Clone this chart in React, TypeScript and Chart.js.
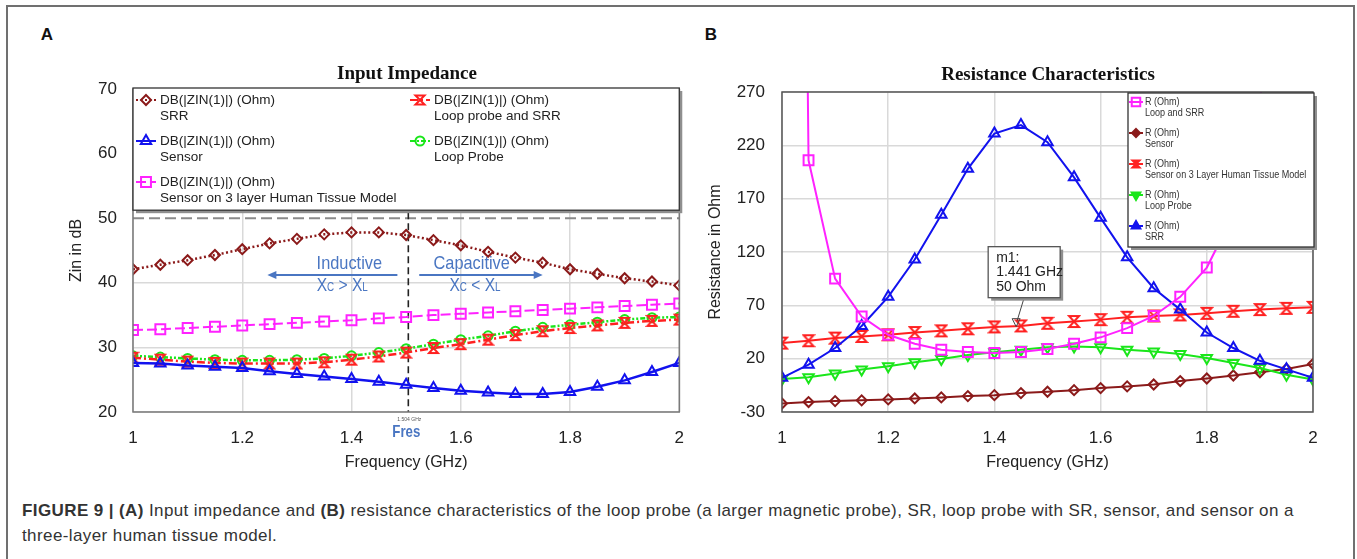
import React, { useEffect, useRef } from 'react';
import { Chart, registerables } from 'chart.js';

Chart.register(...registerables);

// ---------------- data ----------------
const freq = [1, 1.05, 1.1, 1.15, 1.2, 1.25, 1.3, 1.35, 1.4, 1.45, 1.5, 1.55, 1.6, 1.65, 1.7, 1.75, 1.8, 1.85, 1.9, 1.95, 2];

// Panel A: Input impedance (dB)
const zinSRR = [42.1, 42.8, 43.5, 44.3, 45.2, 46.1, 46.8, 47.5, 47.8, 47.8, 47.4, 46.6, 45.8, 44.8, 43.9, 43.1, 42.1, 41.4, 40.7, 40.2, 39.6];
const zinLoopSRR = [28.4, 28.1, 27.8, 27.6, 27.5, 27.5, 27.5, 27.7, 28.1, 28.6, 29.2, 29.9, 30.5, 31.2, 31.9, 32.5, 33.0, 33.4, 33.8, 34.1, 34.3];
const zinSensor = [27.6, 27.5, 27.2, 27.0, 26.8, 26.3, 25.9, 25.5, 25.1, 24.7, 24.2, 23.7, 23.3, 23.0, 22.8, 22.8, 23.1, 23.9, 24.9, 26.2, 27.6];
const zinLoopProbe = [28.7, 28.5, 28.3, 28.1, 28.0, 28.0, 28.1, 28.3, 28.7, 29.2, 29.8, 30.5, 31.2, 31.8, 32.5, 33.1, 33.5, 33.9, 34.3, 34.6, 34.7];
const zinTissue = [32.7, 32.8, 33.0, 33.2, 33.4, 33.6, 33.8, 34.0, 34.2, 34.5, 34.7, 35.0, 35.2, 35.4, 35.6, 35.8, 36.0, 36.2, 36.4, 36.6, 36.8];

// Panel B: Resistance (Ohm)
const rLoopSRR = [2500, 206, 95, 59.5, 42.4, 34, 28.4, 26.2, 25.3, 26.2, 29, 34, 40, 48.6, 60, 78, 105.4, 155, 262, 450, 800];
const rSensor = [-22, -20.7, -19.8, -19.1, -18.2, -17.3, -16.3, -15.1, -14.2, -12.3, -11, -9.5, -7.6, -6, -4.2, -1, 1.4, 4.2, 7.3, 10.4, 15];
const rTissue = [34.6, 36.8, 39.3, 40.8, 42.4, 44.5, 46.1, 48, 49.8, 50.7, 53.2, 54.8, 56.6, 58.8, 60, 61, 62.5, 64.4, 66, 67.2, 68.1];
const rLoopProbe = [1, 2.6, 6, 9.8, 13, 16.6, 19.7, 23.4, 26, 28.4, 30.6, 31.5, 30.6, 28.4, 26.8, 24.3, 20.6, 16, 11.3, 5, 0.4];
const rSRR = [2, 14.4, 30, 50.7, 78, 113, 155, 198, 231, 239, 223, 190, 152, 115, 86, 66, 44.5, 30, 18, 10, 2];

// axes
const xMin = 1, xMax = 2, xStep = 0.2;
const yMinA = 20, yMaxA = 70, yStepA = 10;
const yMinB = -30, yMaxB = 270, yStepB = 50;

// annotations
const fresGHz = 1.504;
const legendFloorA = 50;
const arrowLevel = 41.2;
const inductiveArrow = [1.484, 1.246];
const capacitiveArrow = [1.524, 1.75];
const m1Freq = 1.441;
const m1Ohm = 50;

// texts
const titleA = 'Input Impedance';
const titleB = 'Resistance Characteristics';
const xTitle = 'Frequency (GHz)';
const yTitleA = 'Zin in dB';
const yTitleB = 'Resistance in Ohm';
const traceA = 'DB(|ZIN(1)|) (Ohm)';
const namesA = ['SRR', 'Loop probe and SRR', 'Sensor', 'Loop Probe', 'Sensor on 3 layer Human Tissue Model'];
const traceB = 'R (Ohm)';
const namesB = ['Loop and SRR', 'Sensor', 'Sensor on 3 Layer Human Tissue Model', 'Loop Probe', 'SRR'];

// ---------------- styles ----------------
const FONT = '"Liberation Sans", Arial, Helvetica, sans-serif';
const SERIF = '"Liberation Serif", "Times New Roman", serif';
const C_DARKRED = '#8b1a1a';
const C_BLUE = '#1212ee';
const C_GREEN = '#1ae61a';
const C_RED = '#ff2020';
const C_PINK = '#ff22ff';
const C_NOTE = '#4a76c2';
const NONE = 'rgba(0,0,0,0)';

const pts = (arr: number[]) => freq.map((x, i) => ({ x, y: arr[i] }));
const fmt = (v: any) => String(Number(Number(v).toFixed(3)));

function hourglassCanvas(color: string, w: number, h: number, lw: number) {
  const c = document.createElement('canvas');
  c.width = w + 4;
  c.height = h + 4;
  const g = c.getContext('2d')!;
  g.strokeStyle = color;
  g.lineWidth = lw;
  g.lineJoin = 'miter';
  g.beginPath();
  g.moveTo(2, 2);
  g.lineTo(2 + w, 2);
  g.lineTo(2, 2 + h);
  g.lineTo(2 + w, 2 + h);
  g.closePath();
  g.stroke();
  return c;
}

function drawMarker(ctx: CanvasRenderingContext2D, kind: string, x: number, y: number, r: number, color: string, fill: boolean, lw = 2) {
  ctx.save();
  ctx.setLineDash([]);
  ctx.strokeStyle = color;
  ctx.fillStyle = color;
  ctx.lineWidth = lw;
  ctx.beginPath();
  if (kind === 'rect') {
    const s = r * Math.SQRT1_2;
    ctx.rect(x - s, y - s, 2 * s, 2 * s);
  } else if (kind === 'rectRot') {
    ctx.moveTo(x, y - r); ctx.lineTo(x + r, y); ctx.lineTo(x, y + r); ctx.lineTo(x - r, y); ctx.closePath();
  } else if (kind === 'triangle') {
    ctx.moveTo(x, y - r); ctx.lineTo(x + r * 0.866, y + r / 2); ctx.lineTo(x - r * 0.866, y + r / 2); ctx.closePath();
  } else if (kind === 'triangleDown') {
    ctx.moveTo(x, y + r); ctx.lineTo(x + r * 0.866, y - r / 2); ctx.lineTo(x - r * 0.866, y - r / 2); ctx.closePath();
  } else if (kind === 'circle') {
    ctx.arc(x, y, r, 0, Math.PI * 2);
  } else if (kind === 'hourglass') {
    ctx.moveTo(x - r, y - r); ctx.lineTo(x + r, y - r); ctx.lineTo(x - r, y + r); ctx.lineTo(x + r, y + r); ctx.closePath();
  }
  if (fill) ctx.fill();
  ctx.stroke();
  ctx.restore();
}

function arrow(ctx: CanvasRenderingContext2D, x1: number, x2: number, y: number, color: string) {
  const dir = Math.sign(x2 - x1);
  ctx.save();
  ctx.strokeStyle = color; ctx.fillStyle = color; ctx.lineWidth = 2; ctx.setLineDash([]);
  ctx.beginPath(); ctx.moveTo(x1, y); ctx.lineTo(x2 - dir * 6, y); ctx.stroke();
  ctx.beginPath(); ctx.moveTo(x2, y); ctx.lineTo(x2 - dir * 9, y - 4); ctx.lineTo(x2 - dir * 9, y + 4); ctx.closePath(); ctx.fill();
  ctx.restore();
}

function narrowText(ctx: CanvasRenderingContext2D, text: string, x: number, y: number, sx: number, align: CanvasTextAlign) {
  ctx.save();
  ctx.translate(x, y);
  ctx.scale(sx, 1);
  ctx.textAlign = align;
  ctx.fillText(text, 0, 0);
  ctx.restore();
}

function richText(ctx: CanvasRenderingContext2D, cx: number, cy: number, parts: [string, number][], color: string, sx: number) {
  ctx.save();
  ctx.fillStyle = color;
  ctx.textBaseline = 'alphabetic';
  ctx.textAlign = 'left';
  let total = 0;
  const widths = parts.map(([t, s]) => { ctx.font = `${s}px ${FONT}`; const w = ctx.measureText(t).width; total += w; return w; });
  ctx.translate(cx, cy + 6);
  ctx.scale(sx, 1);
  let x = -total / 2;
  parts.forEach(([t, s], i) => { ctx.font = `${s}px ${FONT}`; ctx.fillText(t, x, 0); x += widths[i]; });
  ctx.restore();
}

function boxWithShadow(ctx: CanvasRenderingContext2D, l: number, t: number, w: number, h: number, border: string) {
  ctx.save();
  ctx.setLineDash([]);
  ctx.fillStyle = '#8f8f8f';
  ctx.fillRect(l + 3, t + 3, w, h);
  ctx.fillStyle = '#ffffff';
  ctx.fillRect(l, t, w, h);
  ctx.strokeStyle = border;
  ctx.lineWidth = 1.3;
  ctx.strokeRect(l, t, w, h);
  ctx.restore();
}

const seriesStyleA = [
  { color: C_DARKRED, dash: [2, 2.5], marker: 'rectRot', r: 5 },
  { color: C_RED, dash: [8, 3, 2, 3], marker: 'hourglass', r: 4.5 },
  { color: C_BLUE, dash: [], marker: 'triangle', r: 6 },
  { color: C_GREEN, dash: [5, 2, 2, 2], marker: 'circle', r: 4.5 },
  { color: C_PINK, dash: [10, 4], marker: 'rect', r: 7 },
];
const legendSlotA = [[0, 0], [1, 0], [0, 1], [1, 1], [0, 2]];

const seriesStyleB = [
  { color: C_PINK, marker: 'rect', r: 7, fill: false },
  { color: C_DARKRED, marker: 'rectRot', r: 5, fill: true },
  { color: C_RED, marker: 'hourglass', r: 4.5, fill: true },
  { color: C_GREEN, marker: 'triangleDown', r: 6, fill: true },
  { color: C_BLUE, marker: 'triangle', r: 6, fill: true },
];

const overlayA = {
  id: 'overlayA',
  beforeDatasetsDraw(chart: any) {
    const { ctx, chartArea: ca, scales: { x, y } } = chart;
    const y50 = y.getPixelForValue(legendFloorA);
    ctx.save();
    ctx.strokeStyle = '#8a8a8a'; ctx.lineWidth = 2; ctx.setLineDash([11, 5]);
    ctx.beginPath(); ctx.moveTo(ca.left, y50); ctx.lineTo(ca.right, y50); ctx.stroke();
    const xf = x.getPixelForValue(fresGHz);
    ctx.strokeStyle = '#222'; ctx.lineWidth = 1.6; ctx.setLineDash([7, 4]);
    ctx.beginPath(); ctx.moveTo(xf, y50 - 6); ctx.lineTo(xf, ca.bottom); ctx.stroke();
    ctx.restore();
  },
  afterDatasetsDraw(chart: any) {
    const { ctx, chartArea: ca, scales: { x, y } } = chart;
    ctx.save();
    // frame
    ctx.strokeStyle = '#7a7a7a'; ctx.lineWidth = 1.5; ctx.setLineDash([]);
    ctx.strokeRect(ca.left, ca.top, ca.right - ca.left, ca.bottom - ca.top);
    // legend box
    const top = ca.top - 1;
    const bottom = y.getPixelForValue(legendFloorA) - 8;
    boxWithShadow(ctx, ca.left, top, ca.right - ca.left, bottom - top, '#333');
    ctx.font = `13.5px ${FONT}`;
    ctx.textBaseline = 'middle';
    ctx.textAlign = 'left';
    namesA.forEach((name, i) => {
      const st = seriesStyleA[i];
      const [col, row] = legendSlotA[i];
      const sx = ca.left + (col === 0 ? 3 : 277);
      const ly = ca.top + 11 + row * 41;
      ctx.save();
      ctx.strokeStyle = st.color; ctx.lineWidth = 2; ctx.setLineDash(st.dash);
      ctx.beginPath(); ctx.moveTo(sx, ly); ctx.lineTo(sx + 20, ly); ctx.stroke();
      ctx.restore();
      drawMarker(ctx, st.marker, sx + 10, ly, st.r, st.color, false);
      ctx.fillStyle = '#222';
      ctx.fillText(traceA, sx + 24, ly);
      ctx.fillText(name, sx + 24, ly + 16);
    });
    // annotations
    const ay = y.getPixelForValue(arrowLevel);
    arrow(ctx, x.getPixelForValue(inductiveArrow[0]), x.getPixelForValue(inductiveArrow[1]), ay, C_NOTE);
    arrow(ctx, x.getPixelForValue(capacitiveArrow[0]), x.getPixelForValue(capacitiveArrow[1]), ay, C_NOTE);
    ctx.fillStyle = C_NOTE;
    ctx.font = `19px ${FONT}`;
    ctx.textBaseline = 'middle';
    narrowText(ctx, 'Inductive', x.getPixelForValue(1.396), y.getPixelForValue(42.9), 0.86, 'center');
    narrowText(ctx, 'Capacitive', x.getPixelForValue(1.62), y.getPixelForValue(42.9), 0.86, 'center');
    richText(ctx, x.getPixelForValue(1.383), y.getPixelForValue(39.6), [['X', 19], ['C', 12], [' > X', 19], ['L', 12]], C_NOTE, 0.82);
    richText(ctx, x.getPixelForValue(1.626), y.getPixelForValue(39.6), [['X', 19], ['C', 12], [' < X', 19], ['L', 12]], C_NOTE, 0.82);
    ctx.restore();
  },
  afterDraw(chart: any) {
    const { ctx, chartArea: ca, scales: { x } } = chart;
    const xf = x.getPixelForValue(fresGHz);
    ctx.save();
    ctx.textAlign = 'center';
    ctx.textBaseline = 'middle';
    ctx.fillStyle = '#555';
    ctx.font = `5px ${FONT}`;
    ctx.fillText(`${fresGHz} GHz`, xf + 1, ca.bottom + 8);
    ctx.fillStyle = C_NOTE;
    ctx.font = `bold 17px ${FONT}`;
    narrowText(ctx, 'Fres', xf - 2, ca.bottom + 20, 0.78, 'center');
    ctx.restore();
  },
};

const overlayB = {
  id: 'overlayB',
  afterDatasetsDraw(chart: any) {
    const { ctx, chartArea: ca, scales: { x, y } } = chart;
    ctx.save();
    ctx.strokeStyle = '#555'; ctx.lineWidth = 1.5; ctx.setLineDash([]);
    ctx.strokeRect(ca.left, ca.top, ca.right - ca.left, ca.bottom - ca.top);
    // legend
    const l = ca.right - 185, t = ca.top + 1, w = 186, h = 154;
    boxWithShadow(ctx, l, t, w, h, '#333');
    ctx.font = `10.5px ${FONT}`;
    ctx.textBaseline = 'middle';
    namesB.forEach((name, i) => {
      const st = seriesStyleB[i];
      const ly = t + 9 + i * 31;
      ctx.save();
      ctx.strokeStyle = st.color; ctx.lineWidth = 2;
      ctx.beginPath(); ctx.moveTo(l + 1, ly); ctx.lineTo(l + 15, ly); ctx.stroke();
      ctx.restore();
      drawMarker(ctx, st.marker, l + 8, ly, st.r - 1, st.color, st.fill);
      ctx.fillStyle = '#333';
      narrowText(ctx, traceB, l + 17, ly, 0.86, 'left');
      narrowText(ctx, name, l + 17, ly + 11.5, 0.86, 'left');
    });
    // m1 marker
    const px = x.getPixelForValue(m1Freq), py = y.getPixelForValue(m1Ohm);
    const bx = px - 28, by = py - 80, bw = 72, bh = 51;
    ctx.strokeStyle = '#444'; ctx.lineWidth = 1;
    ctx.beginPath(); ctx.moveTo(px + 8, by + bh); ctx.lineTo(px + 1, py - 6); ctx.stroke();
    ctx.beginPath(); ctx.moveTo(px - 4, py - 8); ctx.lineTo(px + 4, py - 8); ctx.lineTo(px, py); ctx.closePath(); ctx.stroke();
    boxWithShadow(ctx, bx, by, bw, bh, '#555');
    ctx.fillStyle = '#222';
    ctx.font = `14px ${FONT}`;
    ctx.textAlign = 'left';
    ctx.fillText('m1:', bx + 8, by + 11);
    ctx.fillText(`${m1Freq} GHz`, bx + 8, by + 25);
    ctx.fillText(`${m1Ohm} Ohm`, bx + 8, by + 40);
    ctx.restore();
  },
};

function xScale(titleText: string) {
  return {
    type: 'linear',
    min: xMin,
    max: xMax,
    ticks: { stepSize: xStep, color: '#222', font: { family: FONT, size: 17 }, padding: 16, maxRotation: 0, autoSkip: false, callback: (v: any) => fmt(v) },
    grid: { color: '#d9d9d9', lineWidth: 1.5, drawTicks: false },
    border: { display: false },
    title: { display: true, text: titleText, color: '#222', font: { family: FONT, size: 16 }, padding: 0 },
    afterFit: (s: any) => { s.height = 60; },
  };
}

function yScale(min: number, max: number, step: number, titleText: string, width: number, pad: number, hideVal?: number) {
  return {
    type: 'linear',
    min, max,
    ticks: { stepSize: step, color: '#222', font: { family: FONT, size: 17 }, padding: pad, callback: (v: any) => fmt(v) },
    grid: { color: (c: any) => (c.tick && c.tick.value === hideVal ? NONE : '#d9d9d9'), lineWidth: 1.5, drawTicks: false },
    border: { display: false },
    title: { display: true, text: titleText, color: '#222', font: { family: FONT, size: 16 }, padding: 0 },
    afterFit: (s: any) => { s.width = width; },
  };
}

export default function App() {
  const refA = useRef<HTMLCanvasElement>(null);
  const refB = useRef<HTMLCanvasElement>(null);

  useEffect(() => {
    const hgA = hourglassCanvas(C_RED, 9, 10, 2);
    const hgB = hourglassCanvas(C_RED, 10, 11, 2);
    const base = (color: string) => ({ borderColor: color, pointBorderColor: color, pointBackgroundColor: NONE, pointBorderWidth: 2, tension: 0, fill: false });

    const chartA = new Chart(refA.current!, {
      type: 'line',
      data: {
        datasets: [
          { ...base(C_BLUE), label: namesA[2], data: pts(zinSensor), borderWidth: 2.5, pointStyle: 'triangle', pointRadius: 6 },
          { ...base(C_RED), label: namesA[1], data: pts(zinLoopSRR), borderWidth: 2.5, borderDash: [8, 3, 2, 3], pointStyle: hgA as any, pointRadius: 5 },
          { ...base(C_GREEN), label: namesA[3], data: pts(zinLoopProbe), borderWidth: 2.5, borderDash: [5, 2, 2, 2, 2, 2], pointStyle: 'circle', pointRadius: 4.5 },
          { ...base(C_DARKRED), label: namesA[0], data: pts(zinSRR), borderWidth: 2.5, borderDash: [2, 2.5], pointStyle: 'rectRot', pointRadius: 5 },
          { ...base(C_PINK), label: namesA[4], data: pts(zinTissue), borderWidth: 2, borderDash: [10, 4], pointStyle: 'rect', pointRadius: 7 },
        ] as any,
      },
      options: {
        responsive: false,
        animation: false,
        events: [],
        layout: { padding: { left: 67, top: 89, right: 19, bottom: 8 } },
        plugins: { legend: { display: false }, tooltip: { enabled: false }, title: { display: false } },
        scales: {
          x: xScale(xTitle) as any,
          y: yScale(yMinA, yMaxA, yStepA, yTitleA, 66, 16, legendFloorA) as any,
        },
      },
      plugins: [overlayA],
    });

    const chartB = new Chart(refB.current!, {
      type: 'line',
      data: {
        datasets: [
          { ...base(C_PINK), label: namesB[0], data: pts(rLoopSRR), borderWidth: 2, pointStyle: 'rect', pointRadius: 7 },
          { ...base(C_BLUE), label: namesB[4], data: pts(rSRR), borderWidth: 2, pointStyle: 'triangle', pointRadius: 6 },
          { ...base(C_RED), label: namesB[2], data: pts(rTissue), borderWidth: 2, pointStyle: hgB as any, pointRadius: 5 },
          { ...base(C_GREEN), label: namesB[3], data: pts(rLoopProbe), borderWidth: 2, pointStyle: 'triangle', pointRotation: 180, pointRadius: 6 },
          { ...base(C_DARKRED), label: namesB[1], data: pts(rSensor), borderWidth: 2, pointStyle: 'rectRot', pointRadius: 5 },
        ] as any,
      },
      options: {
        responsive: false,
        animation: false,
        events: [],
        layout: { padding: { left: 6, top: 92, right: 44, bottom: 8 } },
        plugins: { legend: { display: false }, tooltip: { enabled: false }, title: { display: false } },
        scales: {
          x: xScale(xTitle) as any,
          y: yScale(yMinB, yMaxB, yStepB, yTitleB, 76, 17) as any,
        },
      },
      plugins: [overlayB],
    });

    return () => { chartA.destroy(); chartB.destroy(); };
  }, []);

  const center: React.CSSProperties = { position: 'absolute', transform: 'translate(-50%, -50%)', whiteSpace: 'nowrap' };

  return (
    <div style={{ position: 'absolute', left: 0, top: 0, width: 1357, height: 559, background: '#fff', overflow: 'hidden', fontFamily: FONT }}>
      <div style={{ position: 'absolute', left: 6, top: 5, width: 1345, height: 600, border: '2px solid #707070' }} />
      <div style={{ ...center, left: 47, top: 35, font: `bold 17px ${FONT}`, color: '#111' }}>A</div>
      <div style={{ ...center, left: 711, top: 35, font: `bold 17px ${FONT}`, color: '#111' }}>B</div>
      <canvas ref={refA} width={700} height={480} style={{ position: 'absolute', left: 0, top: 0 }} />
      <canvas ref={refB} width={657} height={480} style={{ position: 'absolute', left: 700, top: 0 }} />
      <div style={{ ...center, left: 407, top: 73, font: `bold 19px ${SERIF}`, color: '#111' }}>{titleA}</div>
      <div style={{ ...center, left: 1048, top: 74, font: `bold 19px ${SERIF}`, color: '#111' }}>{titleB}</div>
      <div style={{ position: 'absolute', left: 22, top: 498, width: 1330, font: `17px ${FONT}`, letterSpacing: '0.4px', lineHeight: '25px', color: '#333', whiteSpace: 'nowrap' }}>
        <b>FIGURE 9 | (A)</b> Input impedance and <b>(B)</b> resistance characteristics of the loop probe (a larger magnetic probe), SR, loop probe with SR, sensor, and sensor on a
        <br />
        three-layer human tissue model.
      </div>
    </div>
  );
}
